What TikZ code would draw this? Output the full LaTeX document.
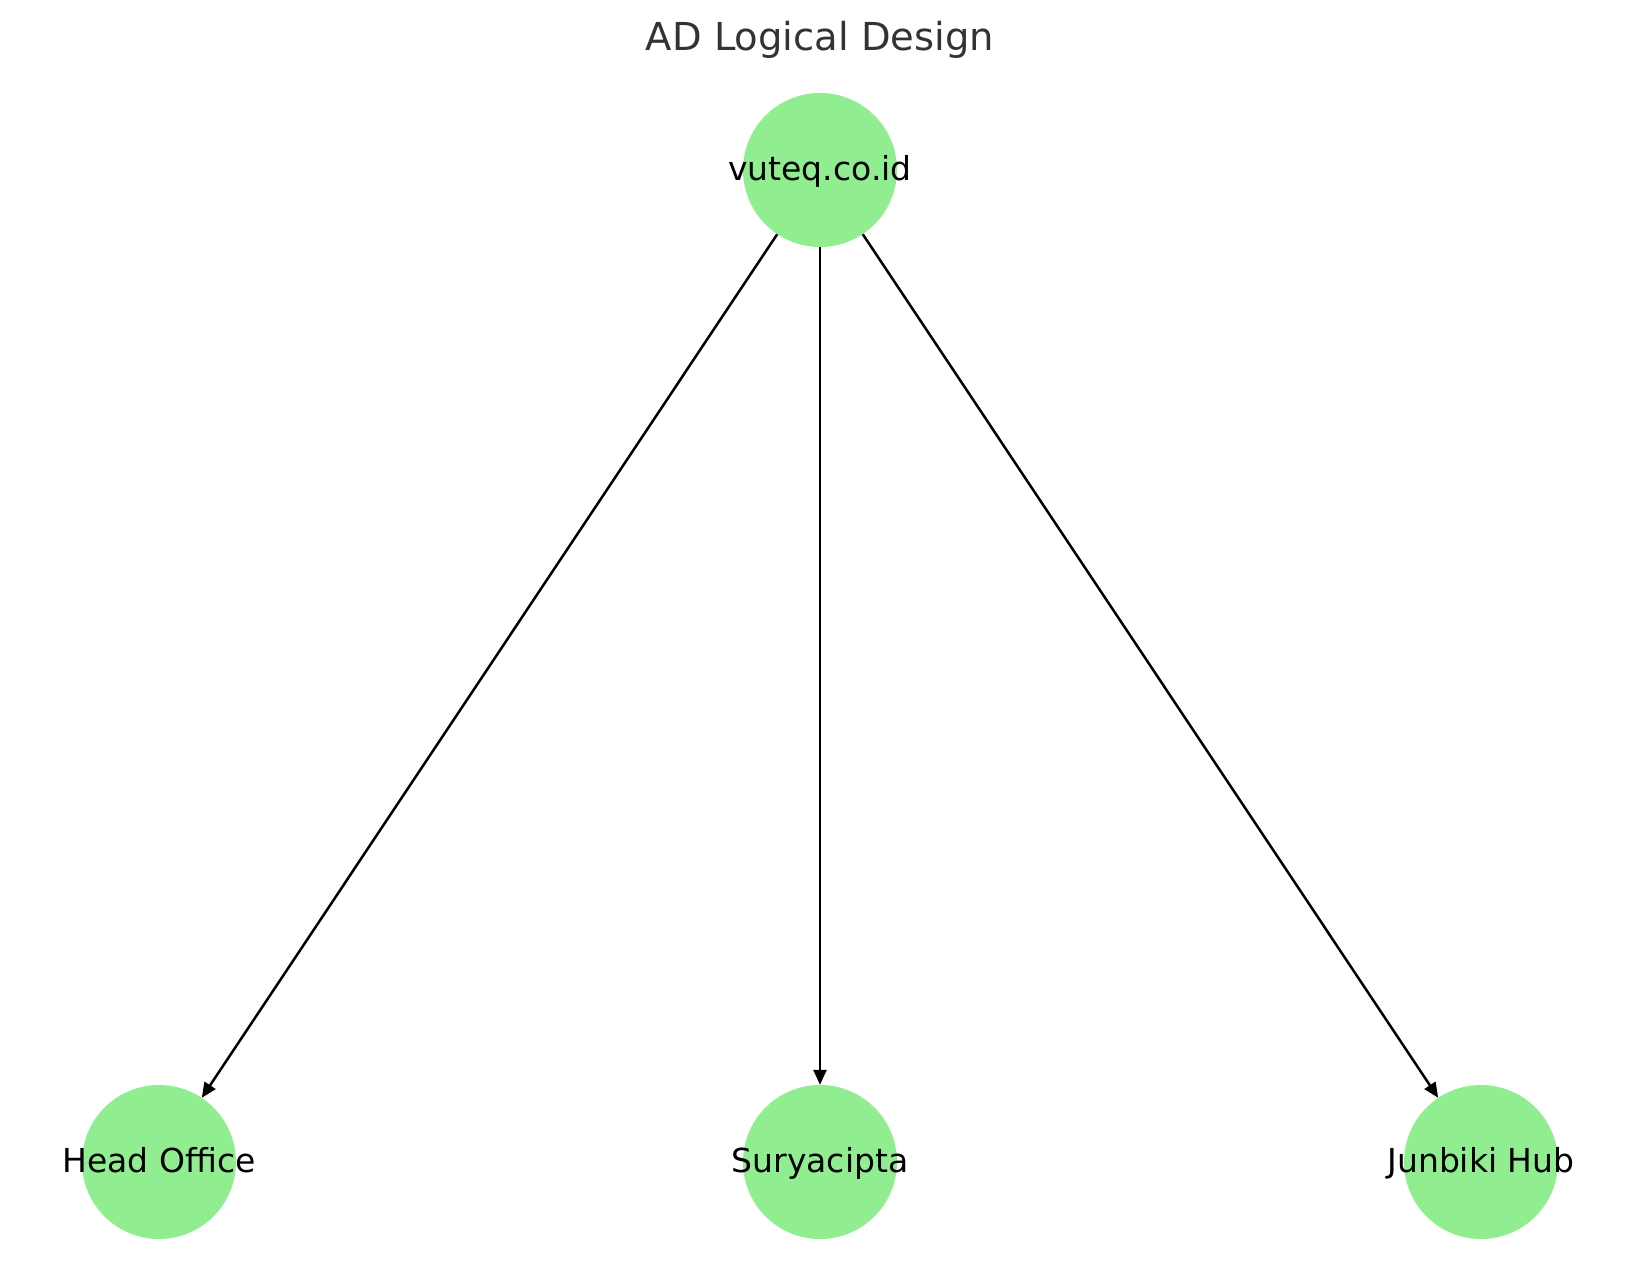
\documentclass[tikz,border=0pt]{standalone}
\usepackage{fontspec}
\setmainfont{DejaVu Sans}
\usetikzlibrary{arrows.meta}
\definecolor{nodegreen}{HTML}{90EE90}
\definecolor{titlegray}{HTML}{333333}
\newcommand{\zw}[1]{\makebox[0pt]{#1}}
\begin{document}
\begin{tikzpicture}[x=1pt,y=-1pt,
  site/.style={circle,fill=nodegreen,minimum size=154pt,inner sep=0pt,
    font=\fontsize{33}{33}\selectfont,text height=20pt,text depth=0pt},
  link/.style={draw=black,line width=2.5pt,-{Triangle[length=15pt,width=13pt]}}]
\useasboundingbox (0,0) rectangle (1639,1286);
\node[anchor=base,text=titlegray,font=\fontsize{38.5}{38.5}\selectfont] (title) at (820,50) {AD Logical Design};
\node[site] (root) at (820,170) {\zw{vuteq.co.id}};
\node[site] (ho) at (159,1162) {\zw{Head Office}};
\node[site] (sc) at (820,1162) {\zw{Suryacipta}};
\node[site] (jh) at (1481,1162) {\zw{Junbiki Hub}};
\draw[link] (root) -- (ho);
\draw[link] (root) -- (sc);
\draw[link] (root) -- (jh);
\end{tikzpicture}
\end{document}
